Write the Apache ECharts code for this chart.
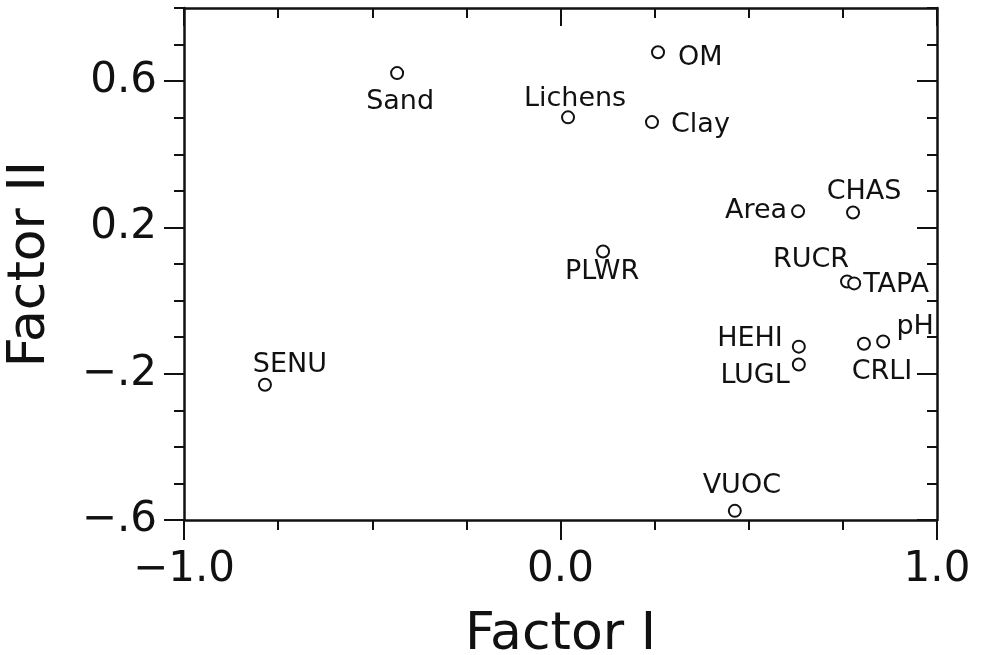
<!DOCTYPE html>
<html>
<head>
<meta charset="utf-8">
<script src="https://cdn.jsdelivr.net/npm/echarts@6/dist/echarts.min.js"></script>
<style>
  html, body { margin: 0; padding: 0; background: #fff; }
  #chart { width: 984px; height: 655px; }
</style>
</head>
<body>
<div id="chart"></div>
<script>
// factor loadings
var names   = ['Sand', 'OM', 'Lichens', 'Clay', 'Area', 'CHAS', 'PLWR', 'RUCR', 'TAPA', 'SENU', 'HEHI', 'LUGL', 'CRLI', 'pH', 'VUOC'];
var factor1 = [-0.434, 0.259, 0.020, 0.243, 0.631, 0.777, 0.113, 0.761, 0.780, -0.785, 0.633, 0.633, 0.806, 0.857, 0.463];
var factor2 = [0.622, 0.679, 0.501, 0.488, 0.244, 0.241, 0.134, 0.052, 0.047, -0.230, -0.126, -0.175, -0.118, -0.112, -0.575];

var xTickValues = [-1, 0, 1];
var xTickLabels = ['\u22121.0', '0.0', '1.0'];
var yTickValues = [-0.6, -0.2, 0.2, 0.6];
var yTickLabels = ['\u2212.6', '\u2212.2', '0.2', '0.6'];

// where each label sits next to its circle: [dx, dy, align]
var labelPlace = {
    Sand: [3, 29, 'center'],
    OM: [20, 6, 'left'],
    Lichens: [7, -18, 'center'],
    Clay: [19, 3, 'left'],
    Area: [-11, 0, 'right'],
    CHAS: [11, -20, 'center'],
    PLWR: [-1, 20, 'center'],
    RUCR: [-36, -22, 'center'],
    TAPA: [9, 2, 'left'],
    SENU: [25, -20, 'center'],
    HEHI: [-16, -8, 'right'],
    LUGL: [-9, 11, 'right'],
    CRLI: [18, 28, 'center'],
    pH: [32, -15, 'center'],
    VUOC: [7, -25, 'center']
};

var FONT = 'DejaVu Sans';
var INK = '#111';

var points = [];
for (var i = 0; i < names.length; i++) {
    var p = labelPlace[names[i]];
    points.push({
        name: names[i],
        value: [factor1[i], factor2[i]],
        label: { offset: [p[0], p[1]], align: p[2] }
    });
}

function pick(values, labels) {
    return function (v) {
        for (var k = 0; k < values.length; k++) {
            if (Math.abs(values[k] - v) < 1e-6) return labels[k];
        }
        return '';
    };
}

var lineStyle = { color: INK, width: 2.5 };

var myChart = echarts.init(document.getElementById('chart'), null, { renderer: 'canvas' });

var option = {
    animation: false,
    backgroundColor: '#fff',
    grid: { left: 184, right: 47, top: 8, bottom: 135, containLabel: false, outerBoundsMode: 'none' },
    xAxis: [
        {
            type: 'value', position: 'bottom', min: -1, max: 1, interval: 1,
            axisLine: { show: true, onZero: false, lineStyle: lineStyle },
            axisTick: { show: true, length: 20, lineStyle: { color: INK, width: 2 } },
            minorTick: { show: true, splitNumber: 4, length: 10, lineStyle: { color: INK, width: 2 } },
            splitLine: { show: false },
            axisLabel: {
                margin: 29, fontFamily: FONT, fontSize: 42, color: INK,
                formatter: pick(xTickValues, xTickLabels)
            },
            name: 'Factor I', nameLocation: 'middle', nameGap: 89,
            nameTextStyle: { fontFamily: FONT, fontSize: 52, color: INK }
        },
        {
            type: 'value', position: 'top', min: -1, max: 1, interval: 1,
            axisLine: { show: true, onZero: false, lineStyle: lineStyle },
            axisTick: { show: true, inside: true, length: 18, lineStyle: { color: INK, width: 2 } },
            minorTick: { show: true, splitNumber: 4, length: 10, lineStyle: { color: INK, width: 2 } },
            splitLine: { show: false },
            axisLabel: { show: false }
        }
    ],
    yAxis: [
        {
            type: 'value', position: 'left', min: -0.6, max: 0.8, interval: 0.1,
            axisLine: { show: true, onZero: false, lineStyle: lineStyle },
            axisTick: { show: true, length: 10, lineStyle: { color: INK, width: 2 } },
            splitLine: { show: false },
            axisLabel: { show: false }
        },
        {
            type: 'value', position: 'left', min: -0.6, max: 0.8,
            axisLine: { show: false, onZero: false },
            axisTick: { show: true, length: 20, customValues: yTickValues, lineStyle: { color: INK, width: 2 } },
            splitLine: { show: false },
            axisLabel: {
                margin: 27, fontFamily: FONT, fontSize: 42, color: INK,
                customValues: yTickValues,
                formatter: pick(yTickValues, yTickLabels)
            },
            name: 'Factor II', nameLocation: 'middle', nameGap: 128, nameRotate: 90,
            nameTextStyle: { fontFamily: FONT, fontSize: 52, color: INK }
        },
        {
            type: 'value', position: 'right', min: -0.6, max: 0.8, interval: 0.1,
            axisLine: { show: true, onZero: false, lineStyle: lineStyle },
            axisTick: { show: true, inside: true, length: 10, lineStyle: { color: INK, width: 2 } },
            splitLine: { show: false },
            axisLabel: { show: false }
        },
        {
            type: 'value', position: 'right', min: -0.6, max: 0.8,
            axisLine: { show: false, onZero: false },
            axisTick: { show: true, inside: true, length: 20, customValues: yTickValues, lineStyle: { color: INK, width: 2 } },
            splitLine: { show: false },
            axisLabel: { show: false }
        }
    ],
    series: [
        {
            type: 'scatter',
            xAxisIndex: 0,
            yAxisIndex: 0,
            symbol: 'circle',
            symbolSize: 12,
            itemStyle: { color: '#fff', borderColor: INK, borderWidth: 2, opacity: 1 },
            label: {
                show: true,
                position: 'inside',
                verticalAlign: 'middle',
                formatter: '{b}',
                fontFamily: FONT,
                fontSize: 27,
                color: INK
            },
            emphasis: { disabled: true },
            data: points
        }
    ]
};

myChart.setOption(option);
</script>
</body>
</html>
